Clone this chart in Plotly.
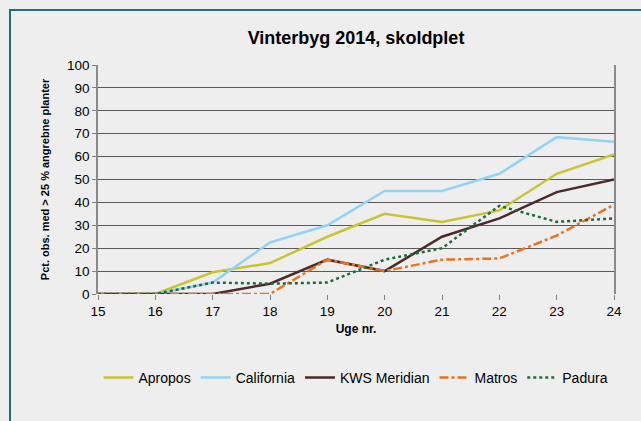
import plotly.graph_objects as go

weeks = [15, 16, 17, 18, 19, 20, 21, 22, 23, 24]
apropos = [0, 0, 9.5, 13.5, 25, 35, 31.5, 36.5, 52.5, 61]
california = [0, 0, 5, 22.5, 30, 45, 45, 52.5, 68.5, 66.5]
kws_meridian = [0, 0, 0, 4.5, 15, 10, 25, 33, 44.5, 50]
matros = [0, 0, 0, 0, 15, 10, 15, 15.5, 25.5, 39]
padura = [0, 0, 5, 4.5, 5, 15, 20, 38.5, 31.5, 33]

series = [
    ("Apropos", apropos, "#c9c433", "solid", 2.5),
    ("California", california, "#92d4f1", "solid", 2.5),
    ("KWS Meridian", kws_meridian, "#4b2a2b", "solid", 2.5),
    ("Matros", matros, "#e8741c", "dashdot", 2.5),
    ("Padura", padura, "#1f6b3b", "dot", 2.5),
]

fig = go.Figure()
for name, vals, color, dash, w in series:
    fig.add_trace(go.Scatter(x=weeks, y=vals, name=name, mode="lines",
                             line=dict(color=color, dash=dash, width=w)))

font = "Liberation Sans, Arial, sans-serif"
fig.update_layout(
    width=641, height=421,
    margin=dict(l=98, r=27, t=65, b=127),
    paper_bgcolor="#eeeeee", plot_bgcolor="#eeeeee",
    font=dict(family=font, size=13.5, color="#000000"),
    title=dict(text="<b>Vinterbyg 2014, skoldplet</b>", x=0.5, xref="paper",
               xanchor="center", y=0.91, yanchor="middle",
               font=dict(size=18, family=font)),
    showlegend=True,
    legend=dict(orientation="h", x=0.5, xanchor="center", y=-0.366, yanchor="middle",
                font=dict(size=14), bgcolor="rgba(0,0,0,0)", itemwidth=30),
    xaxis=dict(range=[15, 24], dtick=1, tick0=15, showgrid=False, zeroline=False,
               ticks="outside", ticklen=5, tickcolor="#808080",
               showline=False,
               title=dict(text="<b>Uge nr.</b>", font=dict(size=12), standoff=6)),
    yaxis=dict(range=[0, 100], dtick=10, showgrid=True, gridcolor="#5a5a5a", gridwidth=1,
               zeroline=False, ticks="outside", ticklen=4, tickcolor="#808080",
               showline=True, linecolor="#8a8a8a", linewidth=1.5, mirror=True,
               title=dict(text="<b>Pct. obs. med > 25 % angrebne planter</b>",
                          font=dict(size=11), standoff=15)),
    shapes=[dict(type="rect", xref="paper", yref="paper",
                 x0=(10 - 98) / 516, x1=1.3, y0=-1.0, y1=(294 - 10) / 229,
                 line=dict(color="#1f6f7d", width=2), fillcolor="rgba(0,0,0,0)",
                 layer="below")],
)

fig.write_html("out.html", config={"displayModeBar": False},
               post_script="document.body.style.margin='0';")
